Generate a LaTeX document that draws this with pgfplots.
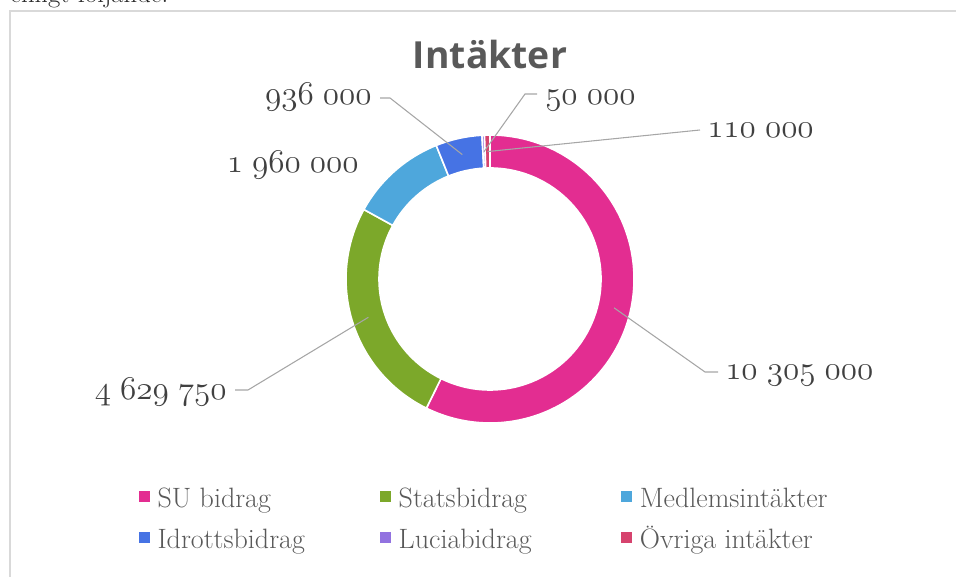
\documentclass[border=0pt]{standalone}
\usepackage{fontspec}
\usepackage{pgfplots}
\usepackage{pgfplotstable}
\pgfplotsset{compat=1.18}
\newfontfamily\titlefont{Open Sans}

\definecolor{c0}{HTML}{E32D91}
\definecolor{c1}{HTML}{7CA82A}
\definecolor{c2}{HTML}{4EA7DC}
\definecolor{c3}{HTML}{4673E4}
\definecolor{c4}{HTML}{9272E0}
\definecolor{c5}{HTML}{D6436E}
\definecolor{txtgray}{HTML}{404040}
\definecolor{leggray}{HTML}{595959}
\definecolor{leadgray}{HTML}{A6A6A6}
\definecolor{framegray}{HTML}{D9D9D9}

% Intäkter (kr)
\pgfplotstableread[col sep=comma]{
name,value
SU bidrag,10305000
Statsbidrag,4629750
Medlemsintäkter,1960000
Idrottsbidrag,936000
Luciabidrag,50000
Övriga intäkter,110000
}\intakter

% angles of the donut slices, clockwise from 12 o'clock
\pgfplotstablegetrowsof{\intakter}
\pgfmathtruncatemacro\nlast{\pgfplotsretval-1}
\def\total{0}
\pgfplotsforeachungrouped \i in {0,...,\nlast}{%
  \pgfplotstablegetelem{\i}{value}\of\intakter
  \expandafter\edef\csname v\i\endcsname{\pgfplotsretval}%
  \edef\total{\fpeval{\total+\pgfplotsretval}}%
}
\def\cum{0}
\pgfplotsforeachungrouped \i in {0,...,\nlast}{%
  \expandafter\edef\csname a\i\endcsname{\fpeval{round(90-360*\cum/\total,4)}}%
  \edef\cum{\fpeval{\cum+\csname v\i\endcsname}}%
  \expandafter\edef\csname b\i\endcsname{\fpeval{round(90-360*\cum/\total,4)}}%
}

% old-style figures (cmmi) for the data labels
\newcommand\lab[1]{{\usefont{OML}{cmm}{m}{it}\pgfmathprintnumber{#1}}}

\begin{document}
\begin{tikzpicture}
\useasboundingbox (0,0) rectangle (717pt,432.75pt);
\clip (0,0) rectangle (717pt,432.75pt);
\begin{axis}[
  at={(0pt,0pt)}, anchor=south west,
  x=0.75pt, y=0.75pt,
  xmin=0, xmax=956, ymin=0, ymax=577,
  hide axis, clip=false,
  /pgf/number format/.cd, fixed, precision=0, 1000 sep={\hspace{0.28em}}, assume math mode=true,
  /pgfplots/.cd,
  legend columns=3,
  legend image code/.code={\fill[#1] (0pt,-3pt) rectangle (7.5pt,4.5pt);},
  legend style={at={(0.1454,0.1598)}, anchor=north west, draw=none, fill=none,
    inner sep=0pt, outer sep=0pt, row sep=12.75pt,
    font=\fontsize{21}{25}\selectfont, text=leggray,
    nodes={inner sep=0pt},
    /tikz/every odd column/.append style={column sep=6pt}},
]
\addlegendimage{c0}\addlegendentry{\makebox[167pt][l]{\vphantom{Ög}SU bidrag}}
\addlegendimage{c1}\addlegendentry{\makebox[167pt][l]{\vphantom{Ög}Statsbidrag}}
\addlegendimage{c2}\addlegendentry{\makebox[167pt][l]{\vphantom{Ög}Medlemsintäkter}}
\addlegendimage{c3}\addlegendentry{\makebox[167pt][l]{\vphantom{Ög}Idrottsbidrag}}
\addlegendimage{c4}\addlegendentry{\makebox[167pt][l]{\vphantom{Ög}Luciabidrag}}
\addlegendimage{c5}\addlegendentry{\makebox[167pt][l]{\vphantom{Ög}Övriga intäkter}}

\pgfplotsextra{
  \draw[framegray, line width=1.5pt] (axis cs:10,-20) |- (axis cs:990,566);
  \node[anchor=base west, inner sep=0pt, font=\fontsize{20}{24}\selectfont, text=black!85]
    at (axis cs:10,574) {enligt följande.};
  \node[anchor=base, inner sep=0pt, font=\titlefont\bfseries\fontsize{28}{30}\selectfont, text=leggray]
    at (axis cs:490,508) {Intäkter};
  \coordinate (ctr) at (axis cs:490,298);
  \pgfplotsforeachungrouped \i in {0,...,\nlast}{%
    \edef\sa{\csname a\i\endcsname}\edef\sb{\csname b\i\endcsname}%
    \pgfmathsetmacro\sm{(\sa+\sb)/2}%
    \filldraw[fill=c\i, draw=white, line width=1.2pt]
      ([shift={(\sa:108pt)}]ctr) arc[start angle=\sa, end angle=\sb, radius=108pt]
      -- ([shift={(\sb:83.25pt)}]ctr) arc[start angle=\sb, end angle=\sa, radius=83.25pt] -- cycle;
    \coordinate (m\i) at ([shift={(\sm:95.6pt)}]ctr);
  }
  % leader lines
  \draw[leadgray, line width=0.8pt] (m0) -- (axis cs:705,205) -- (axis cs:718,205);
  \draw[leadgray, line width=0.8pt] (m1) -- (axis cs:248,187) -- (axis cs:235,187);
  \draw[leadgray, line width=0.8pt] (m3) -- (axis cs:390,479) -- (axis cs:380,479);
  \draw[leadgray, line width=0.8pt] (m4) -- (axis cs:525,483) -- (axis cs:537,483);
  \draw[leadgray, line width=0.8pt] (m5) -- (axis cs:700,447);
  % data labels
  \begin{scope}[every node/.style={inner sep=0pt, text=txtgray, font=\fontsize{23}{27}\selectfont}]
  \node[anchor=base west] at (axis cs:725,197) {\lab{\csname v0\endcsname}};
  \node[anchor=base east] at (axis cs:227,177) {\lab{\csname v1\endcsname}};
  \node[anchor=base east] at (axis cs:359,404) {\lab{\csname v2\endcsname}};
  \node[anchor=base east] at (axis cs:372,472) {\lab{\csname v3\endcsname}};
  \node[anchor=base west] at (axis cs:545,472) {\lab{\csname v4\endcsname}};
  \node[anchor=base west] at (axis cs:707,439) {\lab{\csname v5\endcsname}};
  \end{scope}
}
\end{axis}
\end{tikzpicture}
\end{document}
